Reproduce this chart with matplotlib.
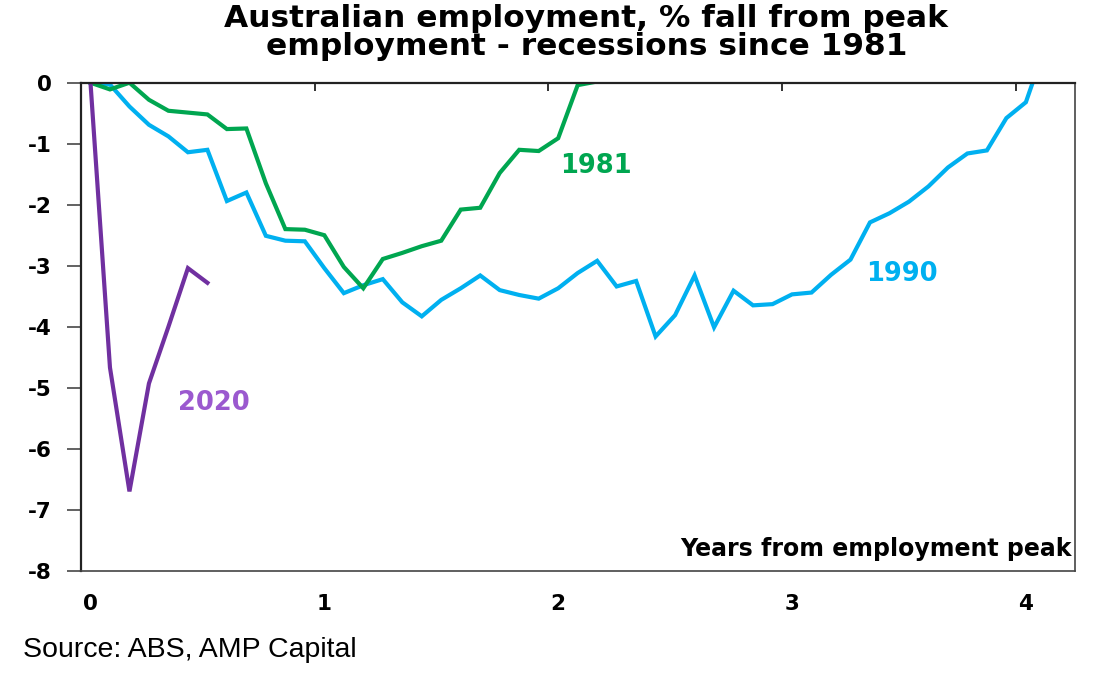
import numpy as np
import matplotlib
matplotlib.use("Agg")
import matplotlib.pyplot as plt
from matplotlib.ticker import FixedLocator

# % fall from peak employment, monthly
rec_1981 = [0.0, -0.11, 0.0, -0.28, -0.46, -0.49, -0.52, -0.76, -0.75, -1.65,
            -2.40, -2.41, -2.50, -3.02, -3.37, -2.89, -2.79, -2.68, -2.59, -2.08,
            -2.05, -1.48, -1.10, -1.12, -0.91, -0.04, 0.02]
rec_1990 = [0.0, -0.03, -0.39, -0.69, -0.88, -1.14, -1.10, -1.94, -1.80, -2.51,
            -2.59, -2.60, -3.04, -3.45, -3.32, -3.22, -3.60, -3.83, -3.56, -3.37,
            -3.16, -3.40, -3.48, -3.54, -3.37, -3.12, -2.92, -3.34, -3.25, -4.16,
            -3.81, -3.16, -4.01, -3.41, -3.65, -3.63, -3.47, -3.44, -3.15, -2.90,
            -2.29, -2.14, -1.95, -1.70, -1.39, -1.16, -1.11, -0.58, -0.32, 0.60]
rec_2020 = [0.0, -4.67, -6.70, -4.93, -4.00, -3.04, -3.28]

yticks = [0, -1, -2, -3, -4, -5, -6, -7, -8]
year_labels = ["0", "1", "2", "3", "4"]

green = "#00A650"
blue = "#00B0F0"
purple = "#7030A0"
purple_txt = "#9B59CF"
bold_font = "DejaVu Sans"

fig = plt.figure(figsize=(11, 6.73), dpi=100)
ax = fig.add_axes([0.0734, 0.152, 0.9035, 0.7251])

def yrs(vals):
    return np.arange(len(vals)) / 12.0

ax.plot(yrs(rec_1990), rec_1990, color=blue, lw=3.0, solid_joinstyle="miter")
ax.plot(yrs(rec_1981), rec_1981, color=green, lw=3.0, solid_joinstyle="miter")
ax.plot(yrs(rec_2020), rec_2020, color=purple, lw=3.0, solid_joinstyle="miter")

ax.set_xlim(-0.5 / 12, 50.5 / 12)
ax.set_ylim(-8, 0)

# y axis
ax.set_yticks(yticks)
ax.set_yticklabels([str(v) for v in yticks], fontsize=15.5, fontweight="bold",
                   family=bold_font)
ax.tick_params(axis="y", direction="out", length=10, width=1.3,
               color="#555555", pad=11)

# x axis: tick marks at month boundaries on the zero line, labels at the bottom
ax.xaxis.set_major_locator(FixedLocator([(12 * k - 0.5) / 12 for k in range(5)]))
ax.xaxis.set_minor_locator(FixedLocator(list(range(5))))
ax.xaxis.set_major_formatter(plt.NullFormatter())
ax.set_xticklabels(year_labels, minor=True, fontsize=15.5, fontweight="bold",
                   family=bold_font)
ax.tick_params(axis="x", which="major", top=True, bottom=False, direction="in",
               length=6, width=1.3, color="#222222", labelbottom=False)
ax.tick_params(axis="x", which="minor", length=0, pad=17)

for side in ["left", "top"]:
    ax.spines[side].set_linewidth(1.6)
    ax.spines[side].set_color("#222222")
for side in ["right", "bottom"]:
    ax.spines[side].set_linewidth(1.2)
    ax.spines[side].set_color("#444444")

# series labels
ax.text(2.163, -1.37, "1981", color=green, fontsize=18.5, fontweight="bold",
        family=bold_font, ha="center", va="center")
ax.text(3.471, -3.13, "1990", color=blue, fontsize=18.5, fontweight="bold",
        family=bold_font, ha="center", va="center")
ax.text(0.527, -5.25, "2020", color=purple_txt, fontsize=18.5, fontweight="bold",
        family=bold_font, ha="center", va="center")

ax.text(0.9975, 0.03, "Years from employment peak", transform=ax.transAxes,
        ha="right", va="baseline", fontsize=17, fontweight="bold", family=bold_font)

fig.text(0.533, 0.9594, "Australian employment, % fall from peak",
         ha="center", va="baseline", fontsize=22.5, fontweight="bold", family=bold_font)
fig.text(0.533, 0.9183, "employment - recessions since 1981",
         ha="center", va="baseline", fontsize=22.5, fontweight="bold", family=bold_font)

fig.text(0.021, 0.0238, "Source: ABS, AMP Capital", ha="left", va="baseline",
         fontsize=20.5, family="Liberation Sans")

fig.savefig("out.png", dpi=100)
